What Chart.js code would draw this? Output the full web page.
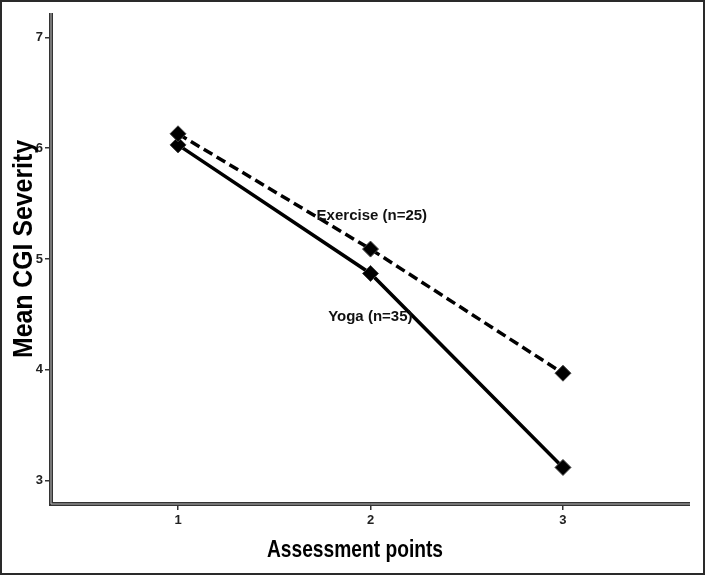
<!DOCTYPE html>
<html>
<head>
<meta charset="utf-8">
<script src="https://cdn.jsdelivr.net/npm/chart.js@4.4.1/dist/chart.umd.min.js"></script>
<style>
  html, body { margin: 0; padding: 0; background: #fff; }
  #wrap { width: 705px; height: 575px; }
</style>
</head>
<body>
<div id="wrap"><canvas id="grafico"></canvas></div>
<script>
// Pontos de avaliacao e medias
const assessmentPoints = [1, 2, 3];
const exerciseMeans = [6.13, 5.09, 3.97];
const yogaMeans = [6.03, 4.87, 3.12];
const yTicks = [3, 4, 5, 6, 7];

// Rotulos das series (posicao em unidades dos eixos)
const seriesLabels = ['Exercise (n=25)', 'Yoga (n=35)'];
const labelX = [1.72, 1.78];
const labelY = [5.39, 4.48];

const xTitle = 'Assessment points';
const yTitle = 'Mean CGI Severity';

const fonte = '"Liberation Sans", Arial, sans-serif';

function toPoints(values) {
    return assessmentPoints.map((x, i) => ({ x: x, y: values[i] }));
}

// Linhas duplas dos eixos, moldura, titulos e rotulos das series
const moldura = {
    id: 'moldura',
    beforeDatasetsDraw(chart) {
        const { ctx, chartArea: a } = chart;
        ctx.save();
        ctx.strokeStyle = '#333';
        ctx.lineWidth = 4;
        ctx.beginPath();
        ctx.moveTo(a.left, a.top);
        ctx.lineTo(a.left, a.bottom);
        ctx.lineTo(a.right, a.bottom);
        ctx.stroke();
        ctx.strokeStyle = '#bbb';
        ctx.lineWidth = 1;
        ctx.beginPath();
        ctx.moveTo(a.left, a.top);
        ctx.lineTo(a.left, a.bottom);
        ctx.lineTo(a.right, a.bottom);
        ctx.stroke();
        ctx.restore();
    },
    afterDraw(chart) {
        const { ctx, scales } = chart;
        ctx.save();
        ctx.fillStyle = '#111';
        ctx.font = 'bold 15px ' + fonte;
        ctx.textBaseline = 'middle';
        ctx.textAlign = 'left';
        seriesLabels.forEach((t, i) => {
            ctx.fillText(t, scales.x.getPixelForValue(labelX[i]), scales.y.getPixelForValue(labelY[i]));
        });
        ctx.restore();

        // titulos dos eixos (fonte estreita simulada)
        ctx.save();
        ctx.fillStyle = '#000';
        ctx.textAlign = 'center';
        ctx.textBaseline = 'middle';
        ctx.font = 'bold 24px ' + fonte;
        ctx.translate(355, 550);
        ctx.scale(0.8, 1);
        ctx.fillText(xTitle, 0, 0);
        ctx.restore();

        ctx.save();
        ctx.fillStyle = '#000';
        ctx.textAlign = 'center';
        ctx.textBaseline = 'middle';
        ctx.font = 'bold 27px ' + fonte;
        ctx.translate(25, 249);
        ctx.rotate(-Math.PI / 2);
        ctx.scale(0.92, 1);
        ctx.fillText(yTitle, 0, 0);
        ctx.restore();

        ctx.save();
        ctx.strokeStyle = '#2a2a2a';
        ctx.lineWidth = 2;
        ctx.strokeRect(1, 1, chart.width - 2, chart.height - 2);
        ctx.restore();
    }
};

new Chart(document.getElementById('grafico').getContext('2d'), {
    type: 'scatter',
    data: {
        datasets: [
            {
                label: seriesLabels[0],
                data: toPoints(exerciseMeans),
                showLine: true,
                borderColor: '#000',
                backgroundColor: '#000',
                borderWidth: 3.5,
                borderDash: [10, 5],
                pointStyle: 'rectRot',
                pointRadius: 8,
                pointBorderWidth: 1,
                pointBorderColor: '#444'
            },
            {
                label: seriesLabels[1],
                data: toPoints(yogaMeans),
                showLine: true,
                borderColor: '#000',
                backgroundColor: '#000',
                borderWidth: 3.5,
                pointStyle: 'rectRot',
                pointRadius: 8,
                pointBorderWidth: 1,
                pointBorderColor: '#444'
            }
        ]
    },
    options: {
        responsive: true,
        maintainAspectRatio: false,
        animation: false,
        layout: { padding: { top: 13, right: 15, left: 0, bottom: 0 } },
        plugins: {
            legend: { display: false },
            tooltip: { enabled: false }
        },
        scales: {
            x: {
                type: 'linear',
                min: 0.34,
                max: 3.66,
                afterFit(scale) { scale.height = 71; },
                afterBuildTicks(scale) {
                    scale.ticks = assessmentPoints.map(v => ({ value: v }));
                },
                grid: { drawOnChartArea: false, tickLength: 6, color: '#333', lineWidth: 1.5 },
                border: { display: false },
                ticks: {
                    color: '#222',
                    padding: 3,
                    font: { family: fonte, size: 13, weight: 'bold' }
                }
            },
            y: {
                min: 2.79,
                max: 7.22,
                afterFit(scale) { scale.width = 51; },
                afterBuildTicks(scale) {
                    scale.ticks = yTicks.map(v => ({ value: v }));
                },
                grid: { drawOnChartArea: false, tickLength: 6, color: '#333', lineWidth: 1.5 },
                border: { display: false },
                ticks: {
                    color: '#222',
                    padding: 2,
                    font: { family: fonte, size: 13, weight: 'bold' }
                }
            }
        }
    },
    plugins: [moldura]
});
</script>
</body>
</html>
